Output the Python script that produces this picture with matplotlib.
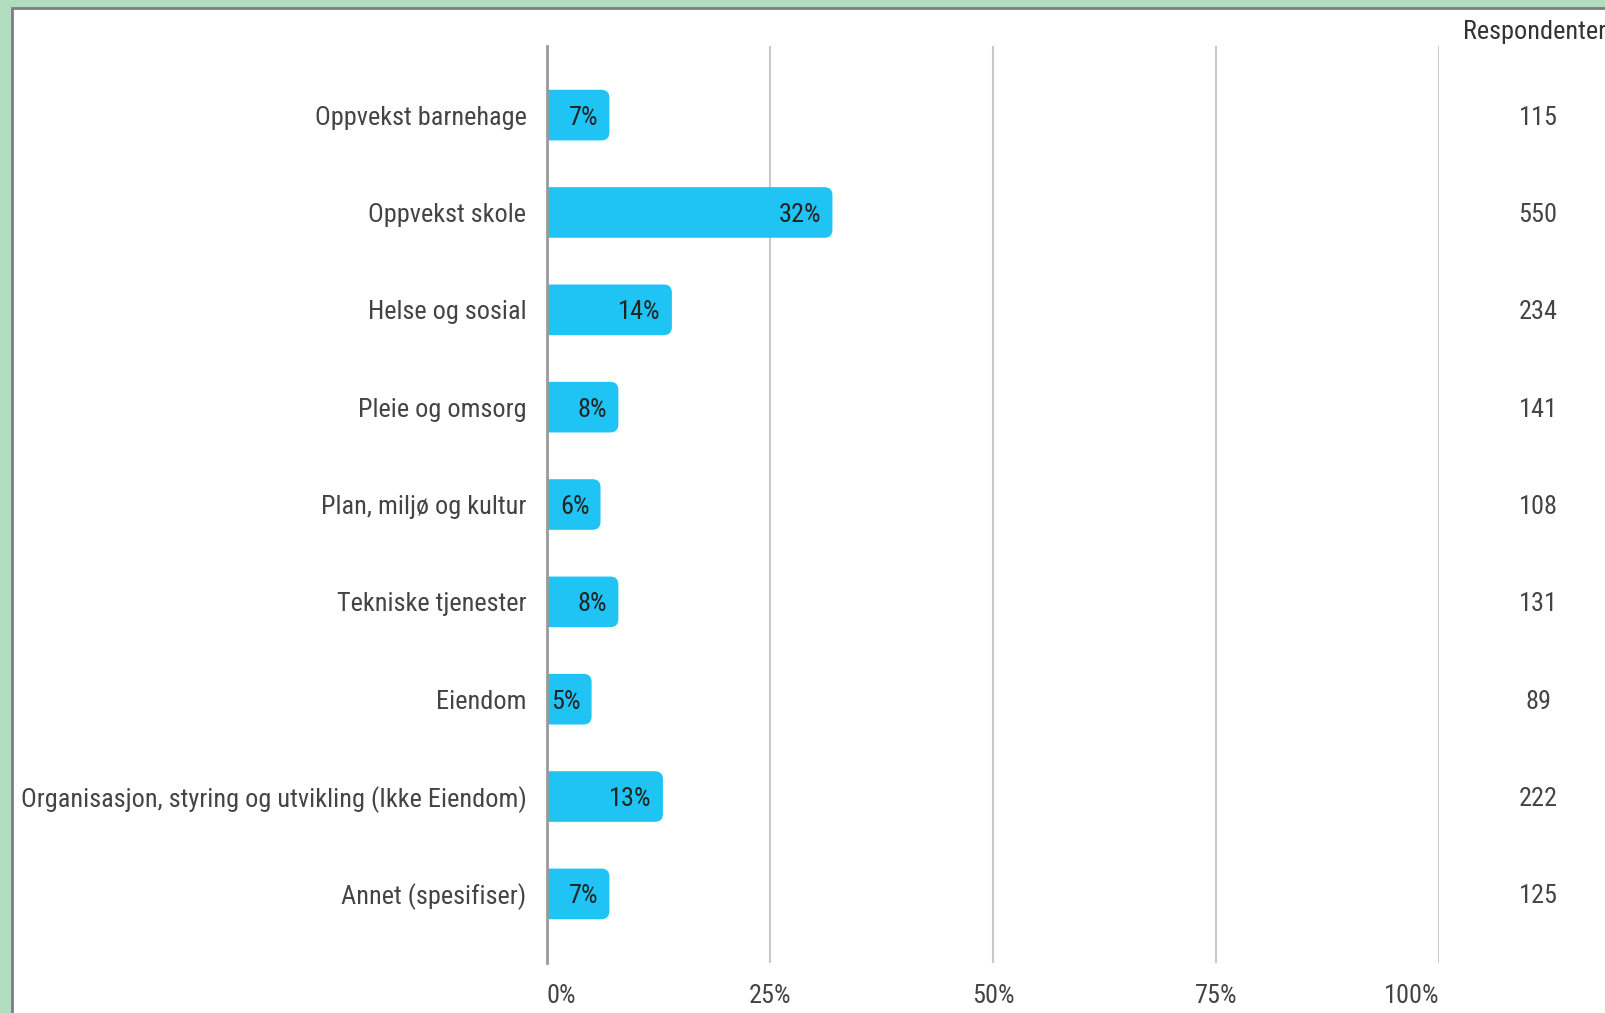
import matplotlib
matplotlib.use('Agg')
import matplotlib.pyplot as plt
from matplotlib import font_manager
from matplotlib.patches import FancyBboxPatch, Rectangle

categories = ['Oppvekst barnehage', 'Oppvekst skole', 'Helse og sosial', 'Pleie og omsorg',
              'Plan, miljø og kultur', 'Tekniske tjenester', 'Eiendom',
              'Organisasjon, styring og utvikling (Ikke Eiendom)', 'Annet (spesifiser)']
percent = [7, 32, 14, 8, 6, 8, 5, 13, 7]
respondents = [115, 550, 234, 141, 108, 131, 89, 222, 125]
xticks = [0, 25, 50, 75, 100]
xtick_labels = ['0%', '25%', '50%', '75%', '100%']

BLUE = '#20c4f4'
TXT = '#444444'

# pick a narrow font if one is installed
names = {f.name for f in font_manager.fontManager.ttflist}
fam = 'Roboto'
for cand in ['Roboto Condensed', 'Liberation Sans Narrow', 'Roboto']:
    if cand in names:
        fam = cand
        break
plt.rcParams['font.family'] = [fam, 'DejaVu Sans']

W, H = 1606, 1013
fig = plt.figure(figsize=(W / 100, H / 100), dpi=100)
fig.patch.set_facecolor('#b0dcc0')
# white panel with grey edge on the left and top
fig.add_artist(Rectangle((12 / W, -0.1), 1.2, 1.1 - 8 / H, transform=fig.transFigure,
                         facecolor='white', edgecolor='#7d7d7d', linewidth=2, zorder=-5))

ax = fig.add_axes([547 / W, 50 / H, 892 / W, 917 / H])
ax.set_facecolor('none')
ypos = list(range(len(categories)))
ax.set_xlim(0, 100)
ax.set_ylim(len(categories) - 0.29, -0.71)

bars = ax.barh(ypos, percent, height=0.52, color=BLUE)
p0 = ax.transData.transform((0, 0))
p1 = ax.transData.transform((1, 1))
aspect = abs(p1[0] - p0[0]) / abs(p1[1] - p0[1])
# rounded right end; left corners start below 0 and get clipped by the axes
for b in bars:
    x, y, w, h = b.get_x(), b.get_y(), b.get_width(), b.get_height()
    b.set_visible(False)
    ax.add_patch(FancyBboxPatch((x - 2, y), w + 2, h, boxstyle='round,pad=0,rounding_size=0.9',
                                mutation_aspect=aspect, fc=BLUE, ec='none', zorder=1))

fs = 17
texts = []
for yv, v in zip(ypos, percent):
    texts.append(ax.text(v - 1.25, yv, f'{v}%', ha='right', va='center_baseline',
                         color='#222222', fontsize=fs))

for yv, n in zip(ypos, respondents):
    texts.append(ax.text(111.1, yv, str(n), ha='center', va='center_baseline', color=TXT,
                         fontsize=fs, clip_on=False))
header = ax.text(1.0, 1 - 29 / H, 'Respondenter', transform=fig.transFigure, ha='right',
                 va='center_baseline', color='#333333', fontsize=fs, clip_on=False)
texts.append(header)

ax.set_yticks(ypos, categories)
ax.set_xticks(xticks, xtick_labels)
ax.tick_params(axis='y', length=0, pad=14.8, labelsize=fs, labelcolor=TXT)
ax.tick_params(axis='x', length=0, pad=15, labelsize=fs, labelcolor=TXT)
xl = ax.get_xticklabels()
xl[0].set_ha('left')
xl[-1].set_ha('right')

ax.grid(axis='x', color='#c8c8c8', linewidth=1.5)
ax.set_axisbelow(True)
for s in ['top', 'right', 'bottom']:
    ax.spines[s].set_visible(False)
ax.spines['left'].set_color('#9a9a9a')
ax.spines['left'].set_linewidth(2)

# fit text size so the longest category label spans about 504 px
fig.canvas.draw()
r = fig.canvas.get_renderer()
wmax = max(t.get_window_extent(r).width for t in ax.get_yticklabels())
scale = 504 / wmax
for t in texts + ax.get_yticklabels() + ax.get_xticklabels():
    t.set_fontsize(t.get_fontsize() * scale)

fig.savefig('out.png', dpi=100)
